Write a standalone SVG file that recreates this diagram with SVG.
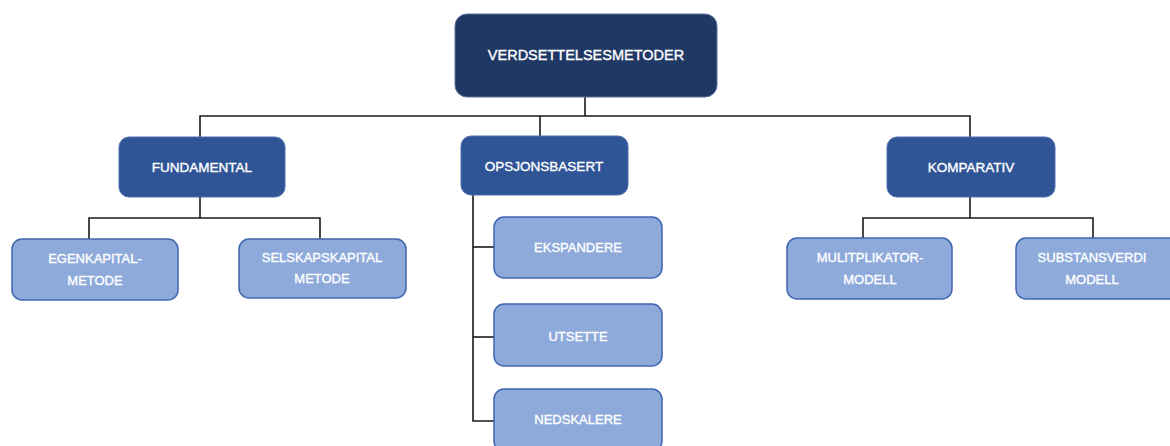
<svg xmlns="http://www.w3.org/2000/svg" width="1170" height="446" viewBox="0 0 1170 446">
  <style>
    .root rect { fill: #203864; stroke: #5a70a0; stroke-width: 1; }
    .mid rect { fill: #2f5597; stroke: #4e6fb0; stroke-width: 1; }
    .leaf rect { fill: #8eaadb; stroke: #3f65b0; stroke-width: 1.5; }
    text { font-family: "Liberation Sans", Arial, sans-serif; fill: #ffffff; stroke: #ffffff; stroke-width: 0.35; text-anchor: middle; dominant-baseline: central; }
    .root text { font-size: 14.5px; }
    .mid text { font-size: 13.5px; }
    .leaf text { font-size: 13px; }
    .links path { fill: none; stroke: #1a1a1a; stroke-width: 1.6; }
  </style>

  <!-- connectors -->
  <g class="links">
    <path d="M585 97 V116"/>
    <path d="M200 137 V116 H970 V137"/>
    <path d="M540 116 V136"/>
    <path d="M200 197 V218"/>
    <path d="M89 239 V218 H320 V239"/>
    <path d="M970 197 V218"/>
    <path d="M863 238 V218 H1093 V238"/>
    <path d="M473 195 V421 H494"/>
    <path d="M473 247 H494"/>
    <path d="M473 337 H494"/>
  </g>

  <g id="verdsettelsesmetoder" class="root">
    <rect x="455" y="14" width="262" height="83" rx="12"/>
    <text x="586" y="55">VERDSETTELSESMETODER</text>
  </g>

  <g id="fundamental" class="mid">
    <rect x="119" y="137" width="166" height="60" rx="10"/>
    <text x="202" y="167">FUNDAMENTAL</text>
  </g>
  <g id="opsjonsbasert" class="mid">
    <rect x="461" y="136" width="167" height="59" rx="10"/>
    <text x="544" y="166">OPSJONSBASERT</text>
  </g>
  <g id="komparativ" class="mid">
    <rect x="887" y="137" width="168" height="60" rx="10"/>
    <text x="971" y="167">KOMPARATIV</text>
  </g>

  <g id="egenkapitalmetode" class="leaf">
    <rect x="12" y="239" width="166" height="61" rx="10"/>
    <text x="95" y="258">EGENKAPITAL-</text>
    <text x="95" y="280">METODE</text>
  </g>
  <g id="selskapskapitalmetode" class="leaf">
    <rect x="239" y="239" width="167" height="59" rx="10"/>
    <text x="322" y="257">SELSKAPSKAPITAL</text>
    <text x="322" y="278">METODE</text>
  </g>

  <g id="ekspandere" class="leaf">
    <rect x="494" y="217" width="168" height="61" rx="10"/>
    <text x="578" y="247">EKSPANDERE</text>
  </g>
  <g id="utsette" class="leaf">
    <rect x="494" y="304" width="168" height="62" rx="10"/>
    <text x="578" y="336">UTSETTE</text>
  </g>
  <g id="nedskalere" class="leaf">
    <rect x="494" y="389" width="168" height="62" rx="10"/>
    <text x="578" y="419">NEDSKALERE</text>
  </g>

  <g id="multiplikatormodell" class="leaf">
    <rect x="787" y="238" width="165" height="61" rx="10"/>
    <text x="870" y="257">MULITPLIKATOR-</text>
    <text x="870" y="279">MODELL</text>
  </g>
  <g id="substansverdimodell" class="leaf">
    <rect x="1016" y="238" width="168" height="61" rx="10"/>
    <text x="1092" y="257">SUBSTANSVERDI</text>
    <text x="1092" y="279">MODELL</text>
  </g>
</svg>
